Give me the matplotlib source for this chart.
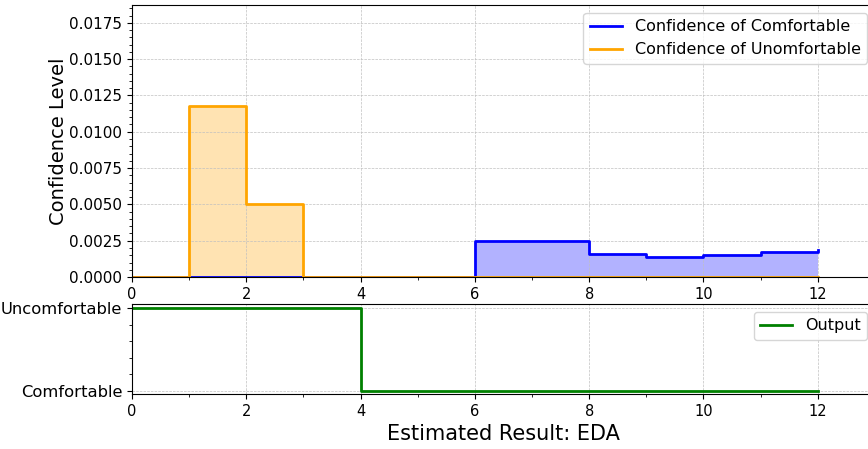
import numpy as np
import matplotlib
matplotlib.use("Agg")
import matplotlib.pyplot as plt
from matplotlib.ticker import MultipleLocator, AutoMinorLocator

# bin edges along EDA estimate
edges = [0, 1, 2, 3, 4, 5, 6, 7, 8, 9, 10, 11, 12]
conf_comfortable = [0, 0, 0, 0, 0, 0, 0.00245, 0.00245, 0.00161, 0.00138, 0.00152, 0.0017, 0.00184]
conf_uncomfortable = [0, 0.01174, 0.00501, 0, 0, 0, 0, 0, 0, 0, 0, 0, 0]
output_x = [0, 4, 12]
output_y = [1, 0, 0]
output_labels = ["Comfortable", "Uncomfortable"]

fig = plt.figure(figsize=(8.68, 4.49), dpi=100)
ax1 = fig.add_axes([0.152, 0.383, 0.856, 0.606])
ax2 = fig.add_axes([0.152, 0.1225, 0.856, 0.2005])

x = np.array(edges)
ax1.step(x, conf_comfortable, where="post", color="blue", lw=2, label="Confidence of Comfortable")
ax1.fill_between(x, conf_comfortable, step="post", color="blue", alpha=0.3, lw=0)
ax1.step(x, conf_uncomfortable, where="post", color="orange", lw=2, label="Confidence of Unomfortable")
ax1.fill_between(x, conf_uncomfortable, step="post", color="orange", alpha=0.3, lw=0)

ax1.set_xlim(0, 13)
ax1.set_ylim(0, 0.01873)
ax1.yaxis.set_major_locator(MultipleLocator(0.0025))
ax1.yaxis.set_minor_locator(AutoMinorLocator(5))
ax1.xaxis.set_major_locator(MultipleLocator(2))
ax1.xaxis.set_minor_locator(MultipleLocator(1))
ax1.grid(True, ls="--", lw=0.5, color="#c0c0c0")
ax1.set_ylabel("Confidence Level", fontsize=14, labelpad=1)
ax1.tick_params(axis="y", labelsize=11)
ax1.tick_params(axis="x", labelsize=10.5)
ax1.legend(loc="upper right", fontsize=11.5)

ax2.step(output_x, output_y, where="post", color="green", lw=2, label="Output")
ax2.set_xlim(0, 13)
ax2.set_ylim(-0.04, 1.05)
ax2.set_yticks([0, 1])
ax2.set_yticklabels(output_labels, fontsize=11.8)
ax2.yaxis.set_minor_locator(MultipleLocator(0.2))
ax2.xaxis.set_major_locator(MultipleLocator(2))
ax2.xaxis.set_minor_locator(MultipleLocator(1))
ax2.tick_params(axis="x", labelsize=10.5)
ax2.grid(True, ls="--", lw=0.5, color="#c0c0c0")
ax2.set_xlabel("Estimated Result: EDA", fontsize=15)
ax2.legend(loc="upper right", fontsize=11.5)

fig.savefig("out.png", dpi=100)
